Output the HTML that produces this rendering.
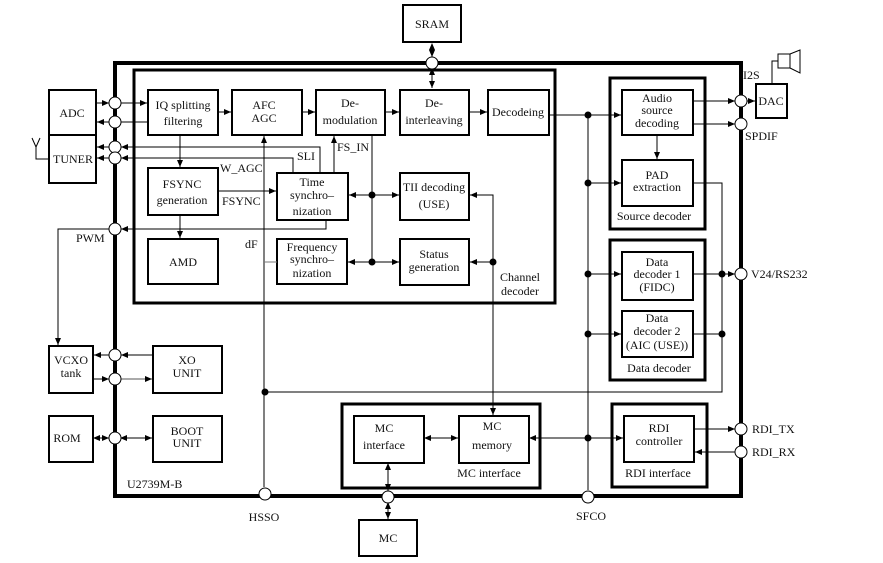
<!DOCTYPE html>
<html><head><meta charset="utf-8"><style>
html,body{margin:0;padding:0;background:#fff;}
svg{display:block;}
text{font-family:"Liberation Serif","Times New Roman",serif;font-size:12px;font-weight:400;fill:#111;}
</style></head><body>
<svg width="883" height="563" viewBox="0 0 883 563" xmlns="http://www.w3.org/2000/svg">
<defs>
<marker id="a" markerWidth="8" markerHeight="6" refX="7" refY="3" orient="auto" markerUnits="userSpaceOnUse"><path d="M0,0 L7,3 L0,6 z" fill="#000"/></marker>
<marker id="b" markerWidth="8" markerHeight="6" refX="1" refY="3" orient="auto" markerUnits="userSpaceOnUse"><path d="M7,0 L0,3 L7,6 z" fill="#000"/></marker>
</defs>
<g fill="none" stroke="#000">
<rect x="115" y="63" width="626" height="433" stroke-width="4"/>
<rect x="134" y="70" width="421" height="233" stroke-width="3"/>
<rect x="610" y="78" width="95" height="151" stroke-width="3"/>
<rect x="610" y="240" width="95" height="140" stroke-width="3"/>
<rect x="342" y="404" width="198" height="84" stroke-width="3"/>
<rect x="612" y="404" width="95" height="83" stroke-width="3"/>
<g stroke-width="2">
<rect x="403" y="5" width="58" height="37"/>
<rect x="49" y="90" width="47" height="45"/>
<rect x="49" y="135" width="47" height="48"/>
<rect x="148" y="90" width="70" height="45"/>
<rect x="232" y="90" width="70" height="45"/>
<rect x="316" y="90" width="69" height="45"/>
<rect x="400" y="90" width="69" height="45"/>
<rect x="488" y="90" width="61" height="45"/>
<rect x="148" y="168" width="70" height="47"/>
<rect x="148" y="239" width="70" height="45"/>
<rect x="277" y="173" width="71" height="47"/>
<rect x="277" y="239" width="70" height="45"/>
<rect x="400" y="173" width="69" height="47"/>
<rect x="400" y="239" width="69" height="46"/>
<rect x="622" y="90" width="71" height="45"/>
<rect x="622" y="160" width="71" height="46"/>
<rect x="622" y="252" width="71" height="48"/>
<rect x="622" y="311" width="71" height="46"/>
<rect x="756" y="84" width="31" height="34"/>
<rect x="49" y="346" width="44" height="47"/>
<rect x="153" y="346" width="69" height="47"/>
<rect x="49" y="416" width="44" height="46"/>
<rect x="153" y="416" width="69" height="46"/>
<rect x="354" y="416" width="70" height="47"/>
<rect x="459" y="416" width="70" height="47"/>
<rect x="624" y="416" width="70" height="46"/>
<rect x="359" y="520" width="58" height="36"/>
</g>
<g stroke-width="1">
<rect x="778" y="54" width="12" height="14"/>
<path d="M790,54 L800,50 L800,73 L790,68"/>
<path d="M772,84 L772,61 L778,61"/>
<path d="M32,138 L36,147 L40,138 M36,147 L36,159 L49,159"/>
<line x1="432" y1="44" x2="432" y2="57" marker-end="url(#a)" marker-start="url(#b)"/>
<line x1="432" y1="69" x2="432" y2="88" marker-end="url(#a)" marker-start="url(#b)"/>
<line x1="96" y1="103" x2="109" y2="103" marker-end="url(#a)"/>
<line x1="121" y1="103" x2="147" y2="103" marker-end="url(#a)"/>
<line x1="147" y1="122" x2="121" y2="122"/>
<line x1="109" y1="122" x2="97" y2="122" marker-end="url(#a)"/>
<path d="M320,173 L320,147 L121,147" marker-end="url(#a)"/>
<line x1="109" y1="147" x2="97" y2="147" marker-end="url(#a)"/>
<path d="M293,173 L293,158 L121,158" marker-end="url(#a)"/>
<line x1="109" y1="158" x2="97" y2="158" marker-end="url(#a)"/>
<line x1="218" y1="112" x2="231" y2="112" marker-end="url(#a)"/>
<line x1="302" y1="112" x2="315" y2="112" marker-end="url(#a)"/>
<line x1="385" y1="112" x2="399" y2="112" marker-end="url(#a)"/>
<line x1="469" y1="112" x2="487" y2="112" marker-end="url(#a)"/>
<line x1="180" y1="135" x2="180" y2="167" marker-end="url(#a)"/>
<line x1="180" y1="215" x2="180" y2="238" marker-end="url(#a)"/>
<line x1="218" y1="191" x2="276" y2="191" marker-end="url(#a)"/>
<line x1="334" y1="173" x2="334" y2="136" marker-end="url(#a)"/>
<path d="M326,220 L326,229 L121,229" marker-end="url(#a)"/>
<path d="M109,229 L58,229 L58,345" marker-end="url(#a)"/>
<line x1="372" y1="135" x2="372" y2="262"/>
<line x1="372" y1="195" x2="349" y2="195" marker-end="url(#a)"/>
<line x1="372" y1="195" x2="399" y2="195" marker-end="url(#a)"/>
<line x1="372" y1="262" x2="348" y2="262" marker-end="url(#a)"/>
<line x1="372" y1="262" x2="399" y2="262" marker-end="url(#a)"/>
<line x1="264" y1="487" x2="264" y2="136" marker-end="url(#a)"/>
<line x1="264" y1="262" x2="277" y2="262" stroke="#777"/>
<path d="M493,415 L493,195 L470,195" marker-end="url(#a)"/>
<line x1="493" y1="400" x2="493" y2="415" marker-end="url(#a)"/>
<line x1="493" y1="262" x2="470" y2="262" marker-end="url(#a)"/>
<line x1="549" y1="115" x2="621" y2="115" marker-end="url(#a)"/>
<line x1="588" y1="115" x2="588" y2="490"/>
<line x1="588" y1="183" x2="621" y2="183" marker-end="url(#a)"/>
<line x1="588" y1="274" x2="621" y2="274" marker-end="url(#a)"/>
<line x1="588" y1="334" x2="621" y2="334" marker-end="url(#a)"/>
<line x1="657" y1="135" x2="657" y2="159" marker-end="url(#a)"/>
<line x1="693" y1="101" x2="735" y2="101" marker-end="url(#a)"/>
<line x1="747" y1="101" x2="755" y2="101" marker-end="url(#a)"/>
<line x1="693" y1="124" x2="735" y2="124" marker-end="url(#a)"/>
<path d="M693,183 L722,183 L722,392 L265,392"/>
<line x1="693" y1="274" x2="735" y2="274" marker-end="url(#a)"/>
<line x1="693" y1="334" x2="722" y2="334"/>
<line x1="153" y1="355" x2="121" y2="355" marker-end="url(#a)"/>
<line x1="109" y1="355" x2="94" y2="355" marker-end="url(#a)"/>
<line x1="93" y1="379" x2="109" y2="379" marker-end="url(#a)"/>
<line x1="121" y1="379" x2="152" y2="379" marker-end="url(#a)" stroke="#555"/>
<line x1="94" y1="438" x2="109" y2="438" marker-end="url(#a)" marker-start="url(#b)"/>
<line x1="121" y1="438" x2="152" y2="438" marker-end="url(#a)" marker-start="url(#b)"/>
<line x1="425" y1="438" x2="458" y2="438" marker-end="url(#a)" marker-start="url(#b)"/>
<line x1="530" y1="438" x2="623" y2="438" marker-end="url(#a)" marker-start="url(#b)"/>
<line x1="388" y1="464" x2="388" y2="491" marker-end="url(#a)" marker-start="url(#b)"/>
<line x1="388" y1="503" x2="388" y2="519" marker-end="url(#a)" marker-start="url(#b)"/>
<line x1="694" y1="429" x2="735" y2="429" marker-end="url(#a)"/>
<line x1="735" y1="452" x2="695" y2="452" marker-end="url(#a)"/>
</g>
<g fill="#fff" stroke="#000" stroke-width="1">
<circle cx="432" cy="63" r="6"/>
<circle cx="115" cy="103" r="6"/><circle cx="115" cy="122" r="6"/>
<circle cx="115" cy="147" r="6"/><circle cx="115" cy="158" r="6"/>
<circle cx="115" cy="229" r="6"/><circle cx="115" cy="355" r="6"/>
<circle cx="115" cy="379" r="6"/><circle cx="115" cy="438" r="6"/>
<circle cx="741" cy="101" r="6"/><circle cx="741" cy="124" r="6"/>
<circle cx="741" cy="274" r="6"/><circle cx="741" cy="429" r="6"/>
<circle cx="741" cy="452" r="6"/>
<circle cx="265" cy="494" r="6"/><circle cx="388" cy="497" r="6"/><circle cx="588" cy="497" r="6"/>
</g>
<g fill="#000">
<circle cx="372" cy="195" r="3"/><circle cx="372" cy="262" r="3"/>
<circle cx="493" cy="262" r="3"/>
<circle cx="588" cy="115" r="3"/><circle cx="588" cy="183" r="3"/>
<circle cx="588" cy="274" r="3"/><circle cx="588" cy="334" r="3"/>
<circle cx="588" cy="438" r="3"/>
<circle cx="722" cy="274" r="3"/><circle cx="722" cy="334" r="3"/>
<circle cx="265" cy="392" r="3"/>
</g>
</g>
<g text-anchor="middle">
<text x="432" y="28">SRAM</text>
<text x="72" y="117">ADC</text>
<text x="73" y="163">TUNER</text>
<text x="183" y="109">IQ splitting</text><text x="183" y="125">filtering</text>
<text x="264" y="109">AFC</text><text x="264" y="122">AGC</text>
<text x="350" y="107">De-</text><text x="350" y="124">modulation</text>
<text x="434" y="107">De-</text><text x="434" y="124">interleaving</text>
<text x="518" y="116">Decodeing</text>
<text x="182" y="188">FSYNC</text><text x="182" y="204">generation</text>
<text x="183" y="266">AMD</text>
<text x="312" y="186">Time</text><text x="312" y="199">synchro–</text><text x="312" y="215">nization</text>
<text x="312" y="251">Frequency</text><text x="312" y="263">synchro–</text><text x="312" y="277">nization</text>
<text x="434" y="191">TII decoding</text><text x="434" y="208">(USE)</text>
<text x="434" y="258">Status</text><text x="434" y="271">generation</text>
<text x="520" y="281">Channel</text><text x="520" y="295">decoder</text>
<text x="657" y="102">Audio</text><text x="657" y="114">source</text><text x="657" y="127">decoding</text>
<text x="657" y="179">PAD</text><text x="657" y="191">extraction</text>
<text x="654" y="220">Source decoder</text>
<text x="657" y="266">Data</text><text x="657" y="278">decoder 1</text><text x="657" y="291">(FIDC)</text>
<text x="657" y="322">Data</text><text x="657" y="335">decoder 2</text><text x="657" y="349">(AIC (USE))</text>
<text x="659" y="372">Data decoder</text>
<text x="771" y="105">DAC</text>
<text x="71" y="364">VCXO</text><text x="71" y="377">tank</text>
<text x="187" y="364">XO</text><text x="187" y="377">UNIT</text>
<text x="67" y="442">ROM</text>
<text x="187" y="435">BOOT</text><text x="187" y="447">UNIT</text>
<text x="384" y="432">MC</text><text x="384" y="449">interface</text>
<text x="492" y="430">MC</text><text x="492" y="449">memory</text>
<text x="489" y="477">MC interface</text>
<text x="659" y="432">RDI</text><text x="659" y="445">controller</text>
<text x="658" y="477">RDI interface</text>
<text x="388" y="542">MC</text>
<text x="264" y="521">HSSO</text><text x="591" y="520">SFCO</text>
</g>
<text x="297" y="160">SLI</text>
<text x="220" y="172">W_AGC</text>
<text x="337" y="151">FS_IN</text>
<text x="222" y="205">FSYNC</text>
<text x="245" y="248">dF</text>
<text x="76" y="242">PWM</text>
<text x="743" y="79">I2S</text>
<text x="745" y="140">SPDIF</text>
<text x="751" y="278">V24/RS232</text>
<text x="752" y="433">RDI_TX</text>
<text x="752" y="456">RDI_RX</text>
<text x="127" y="488">U2739M-B</text>
</svg>
</body></html>
